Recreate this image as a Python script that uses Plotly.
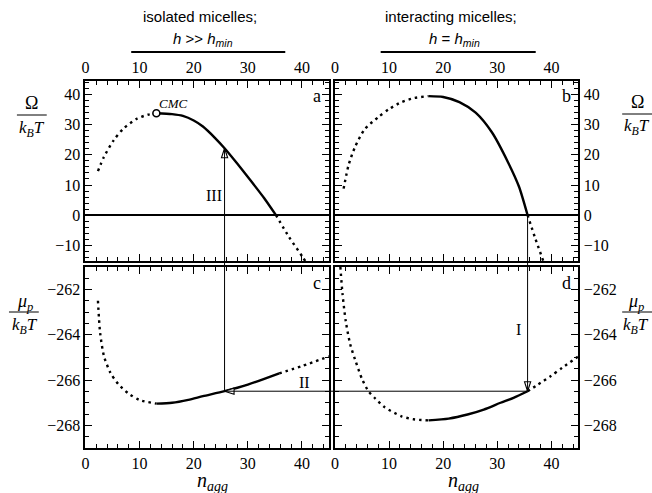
import plotly.graph_objects as go

W, H = 652, 493

# ---- data: aggregation number n_agg and reduced free energies ----
# panel a: isolated micelles, grand potential
n_a_pre = [2.3, 3.4, 5.2, 7.0, 9.5, 11.5, 13.1]
om_a_pre = [14.6, 19.3, 24.8, 28.7, 32.0, 33.3, 33.8]
n_a_mid = [13.1, 16.0, 18.0, 20.0, 21.7, 24.0, 25.7, 28.0, 30.3, 33.0, 35.2]
om_a_mid = [33.8, 33.5, 32.9, 31.4, 29.4, 25.5, 22.2, 17.2, 12.0, 5.7, 0.0]
n_a_post = [35.2, 37.6, 40.1, 40.6]
om_a_post = [0.0, -7.2, -13.8, -15.2]

# panel b: interacting micelles, grand potential
n_b_pre = [1.6, 2.5, 3.7, 5.5, 8.0, 10.0, 12.3, 14.5, 17.3]
om_b_pre = [8.8, 16.5, 22.6, 28.5, 32.5, 35.2, 37.5, 38.8, 39.5]
n_b_mid = [17.3, 20.0, 23.0, 26.0, 29.0, 32.0, 34.0, 35.6]
om_b_mid = [39.5, 39.2, 37.5, 34.0, 27.5, 17.5, 9.5, 0.0]
n_b_post = [35.6, 37.0, 38.5]
om_b_post = [0.0, -7.6, -15.2]

# panel c: isolated micelles, surfactant chemical potential
n_c_pre = [2.3, 2.7, 3.4, 4.6, 6.1, 8.0, 10.0, 13.1]
mu_c_pre = [-262.49, -263.9, -264.93, -265.67, -266.19, -266.6, -266.88, -267.04]
n_c_mid = [13.1, 16.0, 19.0, 21.7, 25.7, 30.0, 35.8]
mu_c_mid = [-267.04, -267.0, -266.87, -266.71, -266.49, -266.2, -265.70]
n_c_post = [35.8, 40.0, 45.0]
mu_c_post = [-265.70, -265.38, -264.95]

# panel d: interacting micelles, surfactant chemical potential
n_d_pre = [1.0, 1.4, 2.0, 2.8, 3.7, 5.0, 6.2, 7.4, 9.2, 12.3, 14.5, 17.3]
mu_d_pre = [-261.0, -262.2, -263.4, -264.4, -265.08, -265.95, -266.49, -266.8,
            -267.2, -267.6, -267.73, -267.78]
n_d_mid = [17.3, 21.0, 24.5, 27.5, 30.6, 33.0, 35.6]
mu_d_mid = [-267.78, -267.7, -267.52, -267.3, -267.0, -266.78, -266.49]
n_d_post = [35.6, 37.5, 39.9, 42.0, 45.0]
mu_d_post = [-266.49, -266.2, -265.82, -265.45, -264.95]

# CMC point and the I -> II -> III construction
n_cmc, om_cmc = 13.1, 33.8
n_I = 35.6          # Omega = 0 for interacting micelles
mu_link = -266.49   # common surfactant chemical potential
n_III = 25.7
om_III = 22.2

x_ticks = [0, 10, 20, 30, 40]

# ---- layout geometry ----
X_RANGE = [0, 45]
OM_RANGE = [-15.2, 44.5]
MU_RANGE = [-269, -261]
XD_L = [82 / W, 327 / W]
XD_R = [333 / W, 578 / W]
YD_T = [1 - 261 / H, 1 - 81 / H]
YD_B = [1 - 448 / H, 1 - 267 / H]


def to_paper(v, rng, dom):
    return dom[0] + (v - rng[0]) / (rng[1] - rng[0]) * (dom[1] - dom[0])


SERIF = "Liberation Serif, Times New Roman, serif"
SANS = "Liberation Sans, Arial, sans-serif"
DOT = "2.5px,4px"
LW = 2.4

fig = go.Figure()


def add_curve(xs, ys, ax, dash):
    fig.add_trace(go.Scatter(
        x=xs, y=ys, mode="lines", xaxis="x" + ax, yaxis="y" + ax,
        line=dict(color="black", width=LW, dash=dash, shape="spline", smoothing=0.7),
        hoverinfo="skip"))


for ax, segs in [
    ("", [(n_a_pre, om_a_pre, DOT), (n_a_mid, om_a_mid, "solid"), (n_a_post, om_a_post, DOT)]),
    ("2", [(n_b_pre, om_b_pre, DOT), (n_b_mid, om_b_mid, "solid"), (n_b_post, om_b_post, DOT)]),
    ("3", [(n_c_pre, mu_c_pre, DOT), (n_c_mid, mu_c_mid, "solid"), (n_c_post, mu_c_post, DOT)]),
    ("4", [(n_d_pre, mu_d_pre, DOT), (n_d_mid, mu_d_mid, "solid"), (n_d_post, mu_d_post, DOT)]),
]:
    for xs, ys, dash in segs:
        add_curve(xs, ys, ax, dash)

# CMC marker
fig.add_trace(go.Scatter(
    x=[n_cmc], y=[om_cmc], mode="markers", xaxis="x", yaxis="y",
    marker=dict(symbol="circle", size=7, color="white", line=dict(color="black", width=1.6)),
    hoverinfo="skip"))

# arrow lines crossing between panels
thin = dict(color="black", width=1)
x3 = to_paper(n_III, X_RANGE, XD_L)
x1 = to_paper(n_I, X_RANGE, XD_R)
y_link = to_paper(mu_link, MU_RANGE, YD_B)
shapes = [
    dict(type="line", xref="paper", yref="paper", x0=x3, x1=x3,
         y0=y_link, y1=to_paper(om_III, OM_RANGE, YD_T), line=thin),
    dict(type="line", xref="paper", yref="paper", x0=x3, x1=x1,
         y0=y_link, y1=y_link, line=thin),
    dict(type="line", xref="paper", yref="paper", x0=x1, x1=x1,
         y0=to_paper(0, OM_RANGE, YD_T), y1=y_link, line=thin),
]

# arrowheads
for xs, ys, ax, ang in [([n_III], [om_III], "", 0), ([n_III], [mu_link], "3", 270),
                        ([n_I], [mu_link], "4", 180)]:
    fig.add_trace(go.Scatter(
        x=xs, y=ys, mode="markers", xaxis="x" + ax, yaxis="y" + ax, cliponaxis=False,
        marker=dict(symbol="arrow", size=10, angle=ang, color="white",
                    line=dict(color="black", width=1.1)),
        hoverinfo="skip"))

# fraction bars of the axis titles
for xa, xb, yy in [(13, 43, 115), (5, 35, 312), (622, 652, 114), (622, 652, 312)]:
    shapes.append(dict(type="line", xref="paper", yref="paper", x0=xa / W, x1=xb / W,
                       y0=1 - yy / H, y1=1 - yy / H, line=dict(color="black", width=1)))
# header rules
for xa, xb in [(128, 283), (379, 535)]:
    shapes.append(dict(type="line", xref="paper", yref="paper", x0=xa / W, x1=xb / W,
                       y0=1 - 52 / H, y1=1 - 52 / H, line=dict(color="black", width=2)))


def pap(px, py):
    return px / W, 1 - py / H


annotations = []


def text(px, py, s, size, family=SERIF, **kw):
    x, y = pap(px, py)
    annotations.append(dict(x=x, y=y, xref="paper", yref="paper", text=s, showarrow=False,
                            font=dict(family=family, size=size, color="black"),
                            xanchor="center", yanchor="middle", **kw))


# panel letters
text(315, 96, "a", 18)
text(566, 96, "b", 18)
text(315, 283, "c", 18)
text(566, 283, "d", 18)

# axis titles
kBT = "<i>k</i><sub><i>B</i></sub><i>T</i>"
text(28, 103, "Ω", 18)
text(28, 129, kBT, 17)
text(21, 302, "<i>μ</i><sub><i>p</i></sub>", 18)
text(21, 326, kBT, 17)
text(637, 102, "Ω", 18)
text(637, 127, kBT, 17)
text(636, 302, "<i>μ</i><sub><i>p</i></sub>", 18)
text(636, 326, kBT, 17)
text(210, 481, "<i>n</i><sub><i>agg</i></sub>", 20)
text(462, 481, "<i>n</i><sub><i>agg</i></sub>", 20)

# headers
text(197, 17, "isolated micelles;", 15, SANS)
text(200, 39, "<i>h</i> >> <i>h</i><sub><i>min</i></sub>", 15, SANS)
text(450, 17, "interacting micelles;", 15, SANS)
text(453, 39, "<i>h</i> = <i>h</i><sub><i>min</i></sub>", 15, SANS)

# CMC and construction labels (data coordinates)
annotations += [
    dict(x=16.3, y=37.0, xref="x", yref="y", text="<i>CMC</i>", showarrow=False,
         font=dict(family=SERIF, size=13, color="black")),
    dict(x=23.8, y=6.6, xref="x", yref="y", text="III", showarrow=False,
         font=dict(family=SERIF, size=16, color="black")),
    dict(x=40.4, y=-266.1, xref="x3", yref="y3", text="II", showarrow=False,
         font=dict(family=SERIF, size=16, color="black")),
    dict(x=34.0, y=-263.75, xref="x4", yref="y4", text="I", showarrow=False,
         font=dict(family=SERIF, size=16, color="black")),
]

tickfont = dict(family=SERIF, size=16, color="black")
minor_x = dict(dtick=2, ticks="inside", ticklen=4, tickcolor="black", tickwidth=1, showgrid=False)


def xaxis(dom, anchor, side, labels=True):
    return dict(domain=dom, anchor=anchor, side=side, range=X_RANGE, tickvals=x_ticks,
                ticks="inside", ticklen=7, tickwidth=1, tickcolor="black",
                mirror="allticks", showline=True, linewidth=2, linecolor="black",
                showgrid=False, zeroline=False, tickfont=tickfont, minor=minor_x,
                showticklabels=labels, ticklabelstandoff=0)


def yaxis(dom, anchor, side, rng, dtick, mdtick, zero):
    return dict(domain=dom, anchor=anchor, side=side, range=rng, dtick=dtick,
                ticks="inside", ticklen=7, tickwidth=1, tickcolor="black",
                mirror="allticks", showline=True, linewidth=2, linecolor="black",
                showgrid=False, zeroline=zero, zerolinecolor="black", zerolinewidth=1.6,
                tickfont=tickfont,
                minor=dict(dtick=mdtick, ticks="inside", ticklen=4, tickcolor="black",
                           tickwidth=1, showgrid=False))


fig.update_layout(
    width=W, height=H, margin=dict(l=0, r=0, t=0, b=0),
    paper_bgcolor="white", plot_bgcolor="white", showlegend=False,
    xaxis=xaxis(XD_L, "y", "top"),
    xaxis2=xaxis(XD_R, "y2", "top"),
    xaxis3=xaxis(XD_L, "y3", "bottom"),
    xaxis4=xaxis(XD_R, "y4", "bottom"),
    yaxis=yaxis(YD_T, "x", "left", OM_RANGE, 10, 2, True),
    yaxis2=yaxis(YD_T, "x2", "right", OM_RANGE, 10, 2, True),
    yaxis3=yaxis(YD_B, "x3", "left", MU_RANGE, 2, 0.5, False),
    yaxis4=yaxis(YD_B, "x4", "right", MU_RANGE, 2, 0.5, False),
    shapes=shapes, annotations=annotations,
)

fig.write_html("out.html")
